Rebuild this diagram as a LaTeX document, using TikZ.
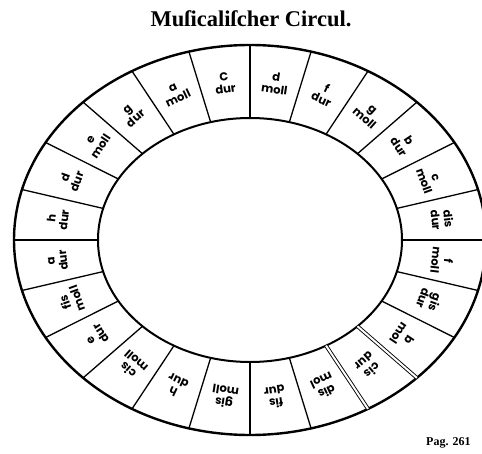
\documentclass[tikz,border=0pt]{standalone}
\usepackage{fontspec}
\setmainfont{Liberation Serif}
\newfontfamily\labfont{Poppins}
\tikzset{
  ring/.style={line width=2.4pt},
  innerring/.style={line width=2pt},
  divider/.style={line width=1.3pt},
  dbl/.style={double, double distance=2pt, line width=0.9pt},
  keylabel/.style={font=\labfont\bfseries\fontsize{11.5}{12.5}\selectfont, align=center, inner sep=0pt},
  titletext/.style={font=\bfseries\fontsize{22.5}{24}\selectfont, inner sep=0pt},
  pagetext/.style={font=\bfseries\fontsize{12}{14}\selectfont, inner sep=0pt, anchor=west}
}
\begin{document}
\begin{tikzpicture}[x=1pt,y=1pt]
\useasboundingbox (-250,-213) rectangle (232,240);
\node[titletext] (title) at (1,221) {Muſicaliſcher Circul.};
\draw[ring] (0,0) ellipse [x radius=236pt, y radius=195pt];
\draw[innerring] (0,0) ellipse [x radius=152pt, y radius=122pt];
\foreach \a in {0,15,...,285,330,345}{
  \coordinate (i\a) at ({152*cos(\a)},{122*sin(\a)});
  \coordinate (o\a) at ({236*cos(\a)},{195*sin(\a)});
  \draw[divider] (i\a) -- (o\a);
}
\foreach \a in {300,315}{
  \coordinate (i\a) at ({152*cos(\a)},{122*sin(\a)});
  \coordinate (o\a) at ({236*cos(\a)},{195*sin(\a)});
  \draw[dbl] (i\a) -- (o\a);
}
\foreach \ang/\k/\m/\n in {
  97.5/C/dur/s0, 112.5/a/moll/s1, 127.5/g/dur/s2, 142.5/e/moll/s3,
  157.5/d/dur/s4, 172.5/h/dur/s5, 187.5/a/dur/s6, 202.5/fis/moll/s7,
  217.5/e/dur/s8, 232.5/cis/moll/s9, 247.5/h/dur/s10, 262.5/gis/moll/s11,
  277.5/fis/dur/s12, 292.5/dis/mol/s13, 307.5/cis/dur/s14, 322.5/b/mol/s15,
  337.5/gis/dur/s16, 352.5/f/moll/s17, 7.5/dis/dur/s18, 22.5/c/moll/s19,
  37.5/b/dur/s20, 52.5/g/moll/s21, 67.5/f/dur/s22, 82.5/d/moll/s23}{
  \pgfmathsetmacro{\rot}{atan2(73*sin(\ang),84*cos(\ang))-90}
  \node[keylabel, rotate=\rot] (\n) at ({194*cos(\ang)},{158.5*sin(\ang)}) {\k\\\m};
}
\node[pagetext] (page) at (176,-203) {Pag. 261};
\end{tikzpicture}
\end{document}
